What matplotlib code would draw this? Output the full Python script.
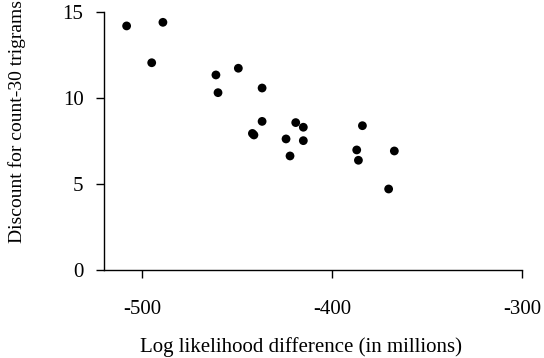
import matplotlib
matplotlib.use("Agg")
import matplotlib.pyplot as plt

# Data
log_lik_diff = [-508.1, -489.0, -494.9, -461.1, -460.0, -449.3, -436.8, -436.8,
                -441.9, -441.1, -419.1, -415.1, -424.2, -415.1, -422.1, -384.0,
                -387.0, -386.1, -367.2, -370.2]
discount = [14.19, 14.40, 12.05, 11.34, 10.31, 11.73, 10.58, 8.64,
            7.94, 7.85, 8.57, 8.30, 7.62, 7.52, 6.63, 8.39,
            6.98, 6.38, 6.92, 4.71]

x_ticks = [-500, -400, -300]
y_ticks = [0, 5, 10, 15]

plt.rcParams['font.family'] = ['Liberation Serif', 'DejaVu Serif']

fig = plt.figure(figsize=(5.44, 3.58), dpi=100)
ax = fig.add_axes([0.1912, 0.2458, 0.9596 - 0.1912, 0.9665 - 0.2458])

ax.scatter(log_lik_diff, discount, s=40, color='black', edgecolors='none', clip_on=False)

ax.set_xlim(-520, -300)
ax.set_ylim(0, 15)
ax.set_xticks(x_ticks)
ax.set_yticks(y_ticks)
ax.set_xticklabels([str(v) for v in x_ticks])

for side in ['top', 'right']:
    ax.spines[side].set_visible(False)
for side in ['left', 'bottom']:
    ax.spines[side].set_linewidth(1.0)

ax.tick_params(axis='both', direction='out', length=5.8, width=1.0, labelsize=15)
ax.tick_params(axis='x', pad=16)
ax.tick_params(axis='y', pad=9)

# axis titles placed by hand, as in the original they sit off-centre
fig.text(301 / 544, 1 - 352 / 358, 'Log likelihood difference (in millions)',
         fontsize=15, ha='center', va='baseline')
fig.text(17.5 / 544, 1 - 122 / 358, 'Discount for count-30 trigrams',
         fontsize=14, rotation=90, ha='center', va='center')

fig.savefig('out.png', dpi=100)
